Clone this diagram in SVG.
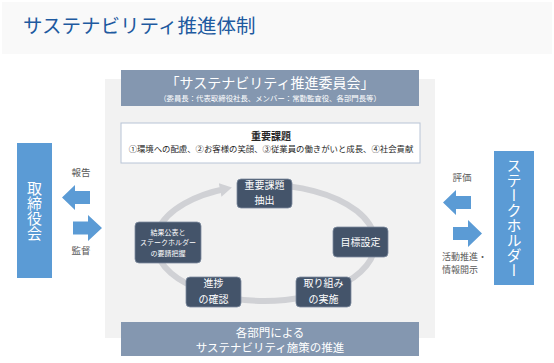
<svg xmlns="http://www.w3.org/2000/svg" width="554" height="363" viewBox="0 0 554 363">
<style>
text{font-family:"Noto Sans CJK JP","Noto Sans",sans-serif;}
.w{fill:#ffffff;}
.lbl{fill:#595959;font-size:9.5px;}
.node rect.n{fill:#44546a;stroke:#7d8ba0;stroke-width:0.8;}
.node text{fill:#ffffff;text-anchor:middle;}
.ba{fill:#5b9bd5;}
.vt{writing-mode:vertical-rl;text-anchor:middle;fill:#ffffff;font-size:15px;}
</style>
<defs>
<marker id="ah" markerUnits="userSpaceOnUse" markerWidth="12" markerHeight="14" viewBox="0 0 12 14" refX="6" refY="7" orient="auto">
<path d="M0,0 L12,7 L0,14 Z" fill="#d0d1d5"/>
</marker>
</defs>
<rect x="0" y="0" width="554" height="363" fill="#ffffff"/>
<rect x="2" y="2" width="550" height="52" fill="#f9f9f9"/>
<text x="23" y="33" font-size="19.5" fill="#1e5aa0">サステナビリティ推進体制</text>

<rect x="105" y="79" width="330" height="259" fill="#f2f2f2"/>

<g id="committee">
<rect x="121" y="70" width="298" height="36" fill="#8497b0"/>
<text x="270" y="88" font-size="14" class="w" text-anchor="middle">「サステナビリティ推進委員会」</text>
<text x="270" y="101" font-size="7.4" class="w" text-anchor="middle">（委員長：代表取締役社長、メンバー：常勤監査役、各部門長等）</text>
</g>

<g id="issues">
<rect x="121" y="123" width="299" height="40" fill="#ffffff" stroke="#b8c4d6" stroke-width="1"/>
<text x="271" y="140" font-size="10" font-weight="bold" fill="#262626" text-anchor="middle">重要課題</text>
<text x="271" y="152" font-size="8.4" fill="#262626" text-anchor="middle">①環境への配慮、②お客様の笑顔、③従業員の働きがいと成長、④社会貢献</text>
</g>

<g id="divisions">
<rect x="121" y="322" width="298" height="34" fill="#8497b0"/>
<text x="270" y="337" font-size="11.5" class="w" text-anchor="middle">各部門による</text>
<text x="270" y="352" font-size="11.5" class="w" text-anchor="middle">サステナビリティ施策の推進</text>
</g>

<g id="board">
<rect x="17" y="143" width="35" height="135" fill="#5b9bd5"/>
<text x="34.5" y="211" class="vt">取締役会</text>
</g>

<g id="stakeholders">
<rect x="494" y="151" width="40" height="134" fill="#5b9bd5"/>
<text x="514" y="218" class="vt">ステークホルダー</text>
</g>

<g id="connectors">
<path class="ba" d="M62,197.5 L75,185 L75,191 L90,191 L90,204 L75,204 L75,210 Z"/>
<path class="ba" d="M102,228 L88,215 L88,221.5 L73,221.5 L73,234.5 L88,234.5 L88,241 Z"/>
<path class="ba" d="M443,202.5 L456,190 L456,196 L471,196 L471,209 L456,209 L456,215 Z"/>
<path class="ba" d="M482,233.5 L468,220 L468,227 L453,227 L453,240 L468,240 L468,247 Z"/>
<text x="81" y="176" class="lbl" text-anchor="middle">報告</text>
<text x="81" y="254" class="lbl" text-anchor="middle">監督</text>
<text x="462" y="181" class="lbl" text-anchor="middle">評価</text>
<text x="442" y="260" class="lbl" style="font-size:9px">活動推進・</text>
<text x="442" y="273" class="lbl" style="font-size:9px">情報開示</text>
<path d="M265,185 A110,58 0 1 1 226,188.8" fill="none" stroke="#d0d1d5" stroke-width="6" marker-end="url(#ah)"/>
</g>

<g id="n1" class="node">
<rect class="n" x="237" y="179" width="55" height="29" rx="4"/>
<text x="264.5" y="189" font-size="10">重要課題</text>
<text x="264.5" y="204" font-size="10">抽出</text>
</g>
<g id="n2" class="node">
<rect class="n" x="333" y="227" width="55" height="30" rx="4"/>
<text x="360.5" y="245.5" font-size="10">目標設定</text>
</g>
<g id="n3" class="node">
<rect class="n" x="296" y="277" width="55" height="30" rx="4"/>
<text x="323.5" y="287" font-size="10">取り組み</text>
<text x="323.5" y="303" font-size="10">の実施</text>
</g>
<g id="n4" class="node">
<rect class="n" x="186" y="277" width="55" height="30" rx="4"/>
<text x="213.5" y="287" font-size="10">進捗</text>
<text x="213.5" y="303" font-size="10">の確認</text>
</g>
<g id="n5" class="node">
<rect class="n" x="135" y="222" width="66" height="41" rx="4"/>
<text x="168" y="234.5" font-size="7">結果公表と</text>
<text x="168" y="245" font-size="7">ステークホルダー</text>
<text x="168" y="255.5" font-size="7">の要請把握</text>
</g>
</svg>
